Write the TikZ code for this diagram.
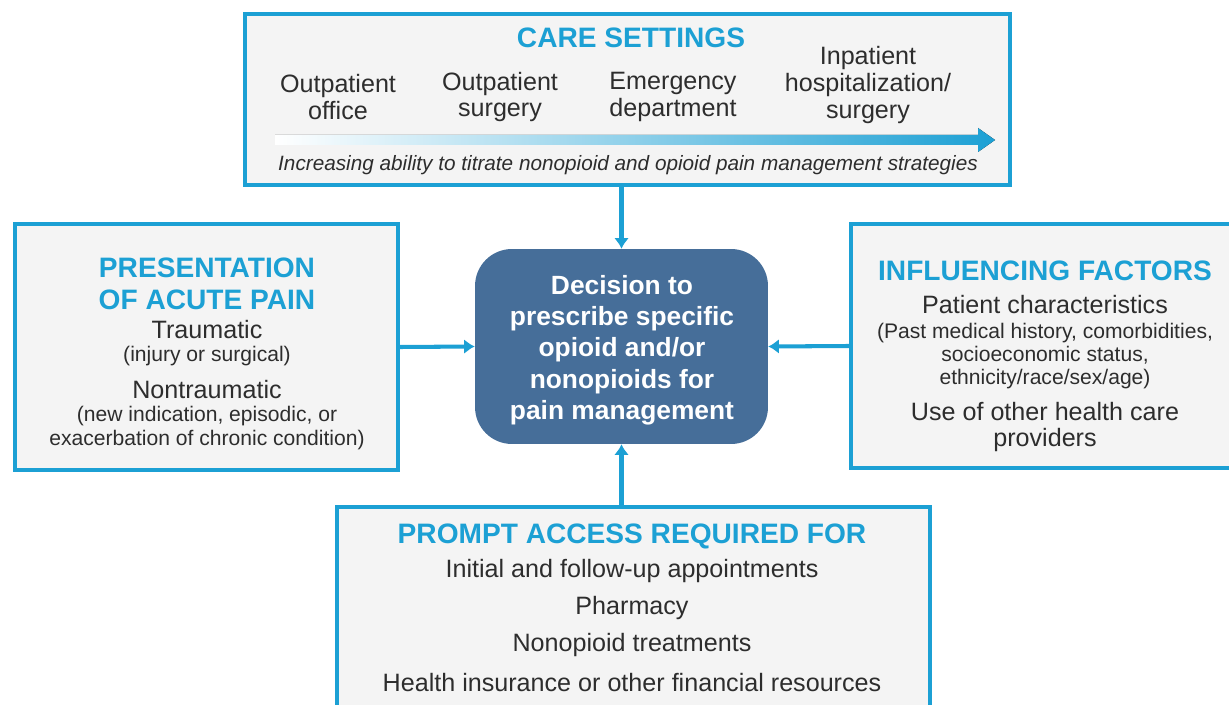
\documentclass[tikz,border=0pt]{standalone}
\usepackage{fontspec}
\setmainfont{Liberation Sans}
\usepackage{tikz}
\usetikzlibrary{positioning,arrows.meta}
\usepackage{xcolor}
\definecolor{cyanline}{RGB}{28,160,212}
\definecolor{boxgray}{RGB}{244,244,244}
\definecolor{decblue}{RGB}{70,110,153}
\definecolor{bodytext}{RGB}{45,45,45}

\begin{document}
\begin{tikzpicture}[x=0.02cm,y=-0.02cm]
    %styles
    \tikzstyle{panel}=[rectangle,draw=cyanline,line width=2.2pt,fill=boxgray,inner sep=0pt]
    \tikzstyle{decision}=[rectangle,rounded corners=21pt,fill=decblue,inner sep=0pt]
    \tikzstyle{dectext}=[text=white,align=center,inner sep=0pt,font=\bfseries\fontsize{15}{17.8}\selectfont]
    \tikzstyle{heading}=[text=cyanline,align=center,inner sep=0pt,font=\bfseries\fontsize{16}{18.1}\selectfont]
    \tikzstyle{item}=[text=bodytext,align=center,inner sep=0pt,font=\fontsize{14.3}{15.3}\selectfont]
    \tikzstyle{note}=[text=bodytext,align=center,inner sep=0pt,font=\fontsize{12}{13.2}\selectfont]
    \tikzstyle{commu}=[-{Latex[length=6pt,width=8.5pt]},line width=2.3pt,draw=cyanline]
    \useasboundingbox (0,0) rectangle (1229,705);
    \clip (0,0) rectangle (1229,705);
    %boxes
    \node[panel,minimum width=15.3cm,minimum height=3.42cm] (care) at (627.5,99.5) {};
    \node[panel,minimum width=7.66cm,minimum height=4.92cm] (pres) at (206.5,347) {};
    \node[panel,minimum width=7.68cm,minimum height=4.88cm] (infl) at (1043,346) {};
    \node[panel,minimum width=11.86cm,minimum height=4.26cm] (prompt) at (633.5,613.5) {};
    \node[decision,minimum width=5.86cm,minimum height=3.9cm] (dec) at (621.5,346.5) {};
    \node[dectext] (dect) at (622,350)
        {Decision to\\prescribe specific\\opioid and/or\\nonopioids for\\pain management};

    %care settings
    \node[heading] (caret) at (631,38) {CARE SETTINGS};
    \node[item] (out1) at (338,97) {Outpatient\\office};
    \node[item] (out2) at (500,97) {Outpatient\\surgery};
    \node[item] (emer) at (673,97) {Emergency\\department};
    \node[item] (inpat) at (868,85) {Inpatient\\hospitalization/\\surgery};
    \fill[left color=white,right color=cyanline]
        (275,135) -- (978,135) -- (978,128) -- (995,140) -- (978,152) -- (978,145) -- (275,145) -- cycle;
    \node[note,font=\itshape\fontsize{11.8}{13}\selectfont] (titr) at (628,165)
        {Increasing ability to titrate nonopioid and opioid pain management strategies};

    %presentation
    \node[heading] (prest) at (207,284) {PRESENTATION\\OF ACUTE PAIN};
    \node[item] (trau) at (207,330) {Traumatic};
    \node[note] (trau2) at (207,356) {(injury or surgical)};
    \node[item] (ntrau) at (207,390) {Nontraumatic};
    \node[note] (ntrau2) at (207,428) {(new indication, episodic, or\\exacerbation of chronic condition)};

    %influencing factors
    \node[heading] (inflt) at (1045,271) {INFLUENCING FACTORS};
    \node[item] (patc) at (1045,305) {Patient characteristics};
    \node[note] (patc2) at (1045,356) {(Past medical history, comorbidities,\\socioeconomic status,\\ethnicity/race/sex/age)};
    \node[item] (prov) at (1045,427) {Use of other health care\\providers};

    %prompt access
    \node[heading] (promptt) at (632,536) {PROMPT ACCESS REQUIRED FOR};
    \node[item] (appt) at (632,571) {Initial and follow-up appointments};
    \node[item] (pharm) at (632,608) {Pharmacy};
    \node[item] (treat) at (632,645) {Nonopioid treatments};
    \node[item] (insur) at (632,683) {Health insurance or other financial resources};

    %arrows
    \draw[commu] (care.south -| dec.north)--(dec.north);
    \draw[commu] (pres.east)--(dec.west);
    \draw[commu] (infl.west)--(dec.east);
    \draw[commu] (prompt.north -| dec.south)--(dec.south);
\end{tikzpicture}
\end{document}
